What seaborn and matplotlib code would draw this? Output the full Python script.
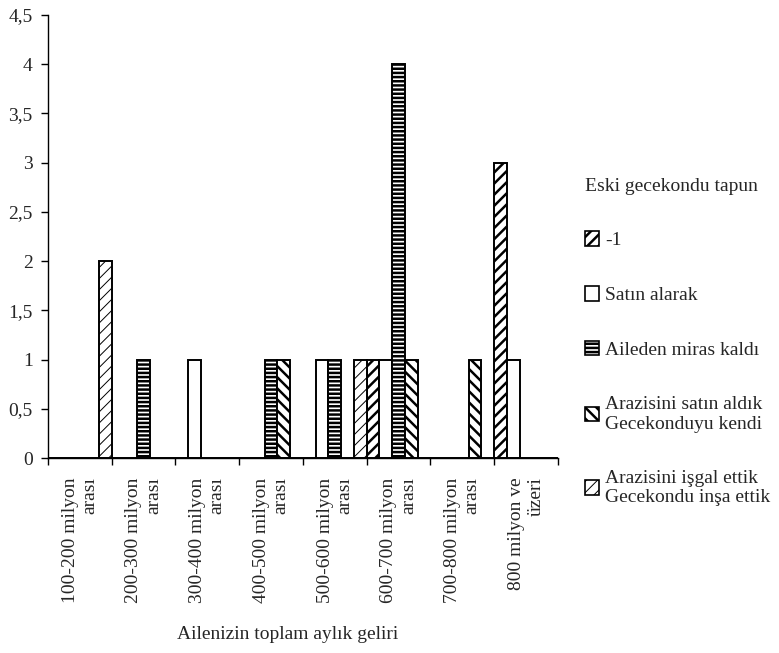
import matplotlib
matplotlib.use("Agg")
import matplotlib.pyplot as plt
from matplotlib.patches import Patch
from matplotlib.ticker import FuncFormatter, FixedLocator
import seaborn as sns
import numpy as np
import pandas as pd

# income groups (x axis)
gelir = ["100-200 milyon\narası", "200-300 milyon\narası", "300-400 milyon\narası",
         "400-500 milyon\narası", "500-600 milyon\narası", "600-700 milyon\narası",
         "700-800 milyon\narası", "800 milyon ve\nüzeri"]

# legend series (old gecekondu title deed)
tapu = ["-1", "Satın alarak", "Aileden miras kaldı",
        "Arazisini satın aldık\nGecekonduyu kendi",
        "Arazisini işgal ettik\nGecekondu inşa ettik"]

# counts per series, one value per income group
eksi_bir = [0, 0, 0, 0, 0, 1, 0, 3]
satin_alarak = [0, 0, 1, 0, 1, 1, 0, 1]
miras = [0, 1, 0, 1, 1, 4, 0, 0]
arazi_satin = [0, 0, 0, 1, 0, 1, 1, 0]
arazi_isgal = [2, 0, 0, 0, 1, 0, 0, 0]

y_ticks = [0, 0.5, 1, 1.5, 2, 2.5, 3, 3.5, 4, 4.5]

series = [eksi_bir, satin_alarak, miras, arazi_satin, arazi_isgal]
rows = []
for name, vals in zip(tapu, series):
    for g, v in zip(gelir, vals):
        rows.append({"gelir": g, "tapu": name, "sayi": v})
df = pd.DataFrame(rows)

hatches = ["///", "", "----", "\\\\\\", "///"]
hatch_lw = [1.8, 1.0, 1.8, 1.8, 0.7]

sns.set_theme(style="white")
plt.rcParams["font.family"] = ["Liberation Serif", "DejaVu Serif"]
plt.rcParams["hatch.linewidth"] = 1.6
plt.rcParams["hatch.color"] = "black"

fig = plt.figure(figsize=(7.79, 6.53), dpi=100)
ax = fig.add_axes([0.0616, 0.2986, 0.6547, 0.6784])

sns.barplot(data=df, x="gelir", y="sayi", hue="tapu", order=gelir, hue_order=tapu,
            palette=["white"] * len(tapu), width=1.0, gap=0, errorbar=None,
            edgecolor="black", linewidth=1.4, legend=False, ax=ax)


def style_patch(p, h, lw):
    p.set_hatch(h)
    try:
        p.set_hatch_linewidth(lw)
    except AttributeError:
        pass


for cont, h, lw in zip(ax.containers, hatches, hatch_lw):
    for bar in cont:
        style_patch(bar, h, lw)

ax.set_xlim(-0.5, len(gelir) - 0.5)
ax.set_ylim(0, 4.5)
ax.set_yticks(y_ticks)
ax.yaxis.set_major_formatter(FuncFormatter(lambda v, p: f"{v:g}".replace(".", ",")))
ax.tick_params(axis="y", direction="out", length=5, width=1, color="black",
               labelsize=14, pad=6, left=True)

ax.set_xticks(range(len(gelir)))
ax.set_xticklabels(gelir, rotation=90, ha="center", va="top",
                   multialignment="right", fontsize=14)
ax.tick_params(axis="x", which="major", length=0, pad=14)
ax.xaxis.set_minor_locator(FixedLocator(np.arange(-0.5, len(gelir), 1.0)))
ax.tick_params(axis="x", which="minor", direction="out", length=5, width=1,
               color="black", bottom=True)

for s in ["top", "right"]:
    ax.spines[s].set_visible(False)
for s in ["left", "bottom"]:
    ax.spines[s].set_color("black")
    ax.spines[s].set_linewidth(1.0)

ax.set_ylabel("")
ax.set_xlabel("Ailenizin toplam aylık geliri", fontsize=14)
ax.xaxis.set_label_coords(0.47, -0.38)
ax.xaxis.label.set_va("top")

handles = [Patch(facecolor="white", edgecolor="black", linewidth=1.2, hatch=h)
           for h in hatches]
leg = ax.legend(handles, tapu, title="Eski gecekondu tapun", loc="upper left",
                bbox_to_anchor=(0.738, 0.743), bbox_transform=fig.transFigure,
                frameon=False, fontsize=14, title_fontsize=14, labelspacing=1.9,
                handlelength=0.75, handleheight=0.75, handletextpad=0.3,
                alignment="left", borderpad=0)
# legend copies its handles, so set the hatch widths on the copies
for p, h, lw in zip(leg.get_patches(), hatches, hatch_lw):
    style_patch(p, h, lw)

fig.savefig("out.png", dpi=100)
